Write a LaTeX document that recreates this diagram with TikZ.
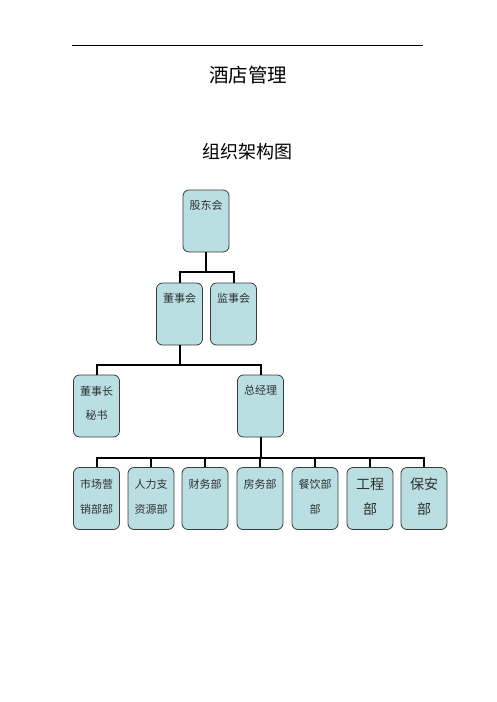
\documentclass[tikz,border=0pt]{standalone}
\usepackage{fontspec}
\newfontfamily\cjk{Noto Sans CJK SC}
\definecolor{boxfill}{HTML}{B9DFE3}
\definecolor{boxline}{HTML}{3A3A3A}
\definecolor{txtgray}{HTML}{303030}
\begin{document}
\begin{tikzpicture}[x=1pt,y=-1pt,
  box/.style={draw=boxline,line width=0.8pt,fill=boxfill,rounded corners=6pt,minimum width=46pt,minimum height=62pt,inner sep=0pt},
  conn/.style={line width=2pt,black},
  lbl/.style={font=\cjk\fontsize{11}{13}\selectfont,text=txtgray,inner sep=0pt},
  lblbig/.style={font=\cjk\fontsize{14}{16}\selectfont,text=txtgray,inner sep=0pt},
  title/.style={font=\cjk\fontsize{19.5}{22}\selectfont,inner sep=0pt},
  titleb/.style={font=\cjk\fontsize{18}{20}\selectfont,inner sep=0pt}]
\useasboundingbox (0,0) rectangle (496,702);
\fill[white] (0,0) rectangle (496,702);
% header rule
\coordinate (r1) at (72,45);
\coordinate (r2) at (423,45);
\draw[line width=0.8pt] (r1) -- (r2);
\node[title] (t1) at (248,75) {酒店管理};
\node[titleb] (t2) at (247.5,152) {组织架构图};
% level 1
\node[box] (gd) at (206,221) {};
\node[lbl,yshift=-16pt] (gdt) at (gd.north) {股东会};
% level 2
\node[box] (dsh) at (179.5,314) {};
\node[lbl,yshift=-16pt] (dsht) at (dsh.north) {董事会};
\node[box] (jsh) at (233.5,314) {};
\node[lbl,yshift=-16pt] (jsht) at (jsh.north) {监事会};
% level 3
\node[box] (ms) at (96.5,406) {};
\node[lbl,yshift=-17pt] (mst1) at (ms.north) {董事长};
\node[lbl,yshift=-41pt] (mst2) at (ms.north) {秘书};
\node[box] (zjl) at (260.5,406) {};
\node[lbl,yshift=-16pt] (zjlt) at (zjl.north) {总经理};
% level 4
\node[box] (b1) at (96.5,498.5) {};
\node[lbl,yshift=-17pt] at (b1.north) {市场营};
\node[lbl,yshift=-42pt] at (b1.north) {销部部};
\node[box] (b2) at (151,498.5) {};
\node[lbl,yshift=-17pt] at (b2.north) {人力支};
\node[lbl,yshift=-42pt] at (b2.north) {资源部};
\node[box] (b3) at (205,498.5) {};
\node[lbl,yshift=-17pt] at (b3.north) {财务部};
\node[box] (b4) at (260,498.5) {};
\node[lbl,yshift=-17pt] at (b4.north) {房务部};
\node[box] (b5) at (315,498.5) {};
\node[lbl,yshift=-17pt] at (b5.north) {餐饮部};
\node[lbl,yshift=-42pt] at (b5.north) {部};
\node[box] (b6) at (370,498.5) {};
\node[lblbig,yshift=-17pt] at (b6.north) {工程};
\node[lblbig,yshift=-42pt] at (b6.north) {部};
\node[box] (b7) at (424,498.5) {};
\node[lblbig,yshift=-17pt] at (b7.north) {保安};
\node[lblbig,yshift=-42pt] at (b7.north) {部};
% connectors
\coordinate (j1) at (206,272);
\draw[conn] (gd.south) -- (j1);
\draw[conn] (dsh.north) |- (j1) -| (jsh.north);
\coordinate (j2) at (179.5,365);
\draw[conn] (dsh.south) -- (j2);
\draw[conn] (ms.north) |- (j2) -| (zjl.north);
\coordinate (j3) at (260.5,458);
\draw[conn] (zjl.south) -- (j3);
\draw[conn] (b1.north) |- (j3) -| (b7.north);
\foreach \b in {b2,b3,b4,b5,b6} { \draw[conn] (\b.north) -- (\b.north |- j3); }
\end{tikzpicture}
\end{document}
